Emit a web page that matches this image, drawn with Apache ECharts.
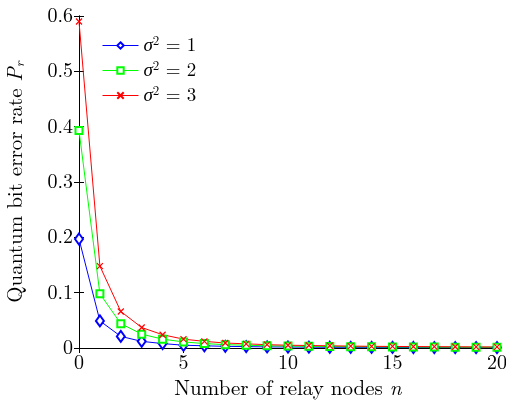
<!DOCTYPE html>
<html>
<head>
<meta charset="UTF-8" />
<title>QBER vs relay nodes</title>
<script src="https://cdn.jsdelivr.net/npm/echarts@6/dist/echarts.min.js"></script>
<style>
  html, body { margin: 0; padding: 0; background: #fff; }
  #chart { width: 506px; height: 403px; }
</style>
</head>
<body>
<div id="chart"></div>
<script>
const nodes = [0,1,2,3,4,5,6,7,8,9,10,11,12,13,14,15,16,17,18,19,20];
const sigma1 = [0.197,0.049,0.021,0.012,0.008,0.005,0.004,0.003,0.0025,0.002,0.0018,0.0015,0.0013,0.0012,0.0011,0.001,0.0009,0.0008,0.0008,0.0007,0.0007];
const sigma2 = [0.393,0.098,0.044,0.025,0.016,0.011,0.008,0.006,0.005,0.004,0.0035,0.003,0.0027,0.0024,0.0021,0.0019,0.0017,0.0016,0.0015,0.0014,0.0013];
const sigma3 = [0.59,0.148,0.066,0.037,0.024,0.016,0.012,0.009,0.0075,0.006,0.005,0.0045,0.004,0.0035,0.003,0.0028,0.0026,0.0024,0.0022,0.002,0.0019];
const xTicks = [0,5,10,15,20];
const yTicks = [0,0.1,0.2,0.3,0.4,0.5,0.6];

const font = '"Latin Modern Roman", "Liberation Serif", "DejaVu Serif", serif';
const crossPath = 'path://M0,0L10,10M10,0L0,10';

function pairs(ys) { return nodes.map((n, i) => [n, ys[i]]); }

const chart = echarts.init(document.getElementById('chart'));
const rich = {
  s: { fontFamily: font, fontStyle: 'italic', fontSize: 19, color: '#000' },
  sup: { fontFamily: font, fontSize: 13, color: '#000', verticalAlign: 'top', padding: [0, 0, 8, 0] },
  t: { fontFamily: font, fontSize: 19, color: '#000' }
};

chart.setOption({
  animation: false,
  grid: { left: 79, right: 9, top: 16, bottom: 55, outerBoundsMode: 'none' },
  legend: {
    left: 97, top: 30, orient: 'vertical', itemGap: 5,
    itemWidth: 36, itemHeight: 8,
    lineStyle: { width: 1 },
    textStyle: { rich: rich, fontFamily: font, fontSize: 19, color: '#000' },
    formatter: name => '{s|σ}{sup|2}{t| = ' + name.slice(-1) + '}',
    data: ['s1', 's2', 's3']
  },
  xAxis: [{
    type: 'value', min: 0, max: 20, interval: 5,
    name: 'Number of relay nodes {i|n}', nameLocation: 'middle', nameGap: 29,
    nameTextStyle: { fontFamily: font, fontSize: 21, color: '#000', rich: { i: { fontFamily: font, fontStyle: 'italic', fontSize: 21 } } },
    axisLine: { lineStyle: { color: '#000', width: 1 } },
    axisTick: { inside: true, length: 5, lineStyle: { color: '#000' } },
    axisLabel: { fontFamily: font, fontSize: 20, color: '#000', margin: 5 },
    splitLine: { show: false }
  }, {
    type: 'value', position: 'top', min: 0, max: 20, interval: 5,
    axisLine: { show: true, lineStyle: { color: '#000' } },
    axisTick: { inside: true, length: 5, lineStyle: { color: '#000' } },
    axisLabel: { show: false }, splitLine: { show: false }
  }],
  yAxis: [{
    type: 'value', min: 0, max: 0.6, interval: 0.1,
    name: 'Quantum bit error rate {i|P}{sub|r}', nameLocation: 'middle', nameGap: 52,
    nameTextStyle: { fontFamily: font, fontSize: 21, color: '#000', rich: {
      i: { fontFamily: font, fontStyle: 'italic', fontSize: 21 },
      sub: { fontFamily: font, fontStyle: 'italic', fontSize: 14, verticalAlign: 'bottom', padding: [8, 0, 0, 0] } } },
    axisLine: { show: true, lineStyle: { color: '#000', width: 1 } },
    axisTick: { inside: true, length: 5, lineStyle: { color: '#000' } },
    axisLabel: { fontFamily: font, fontSize: 20, color: '#000', margin: 6,
      formatter: v => (v === 0 ? '0' : v.toFixed(1)) },
    splitLine: { show: false }
  }, {
    type: 'value', position: 'right', min: 0, max: 0.6, interval: 0.1,
    axisLine: { show: true, lineStyle: { color: '#000' } },
    axisTick: { inside: true, length: 5, lineStyle: { color: '#000' } },
    axisLabel: { show: false }, splitLine: { show: false }
  }],
  series: [
    { name: 's1', type: 'line', data: pairs(sigma1), symbol: 'emptyDiamond', symbolSize: [8, 11],
      itemStyle: { color: '#0000ff', borderWidth: 1 }, lineStyle: { color: '#0000ff', width: 1 } },
    { name: 's2', type: 'line', data: pairs(sigma2), symbol: 'emptyRect', symbolSize: 7,
      itemStyle: { color: '#00ff00', borderWidth: 1 }, lineStyle: { color: '#00ff00', width: 1 } },
    { name: 's3', type: 'line', data: pairs(sigma3), symbol: crossPath, symbolSize: 6,
      itemStyle: { color: '#ff0000', borderColor: '#ff0000', borderWidth: 1.2 }, lineStyle: { color: '#ff0000', width: 1 } }
  ]
});
</script>
</body>
</html>
